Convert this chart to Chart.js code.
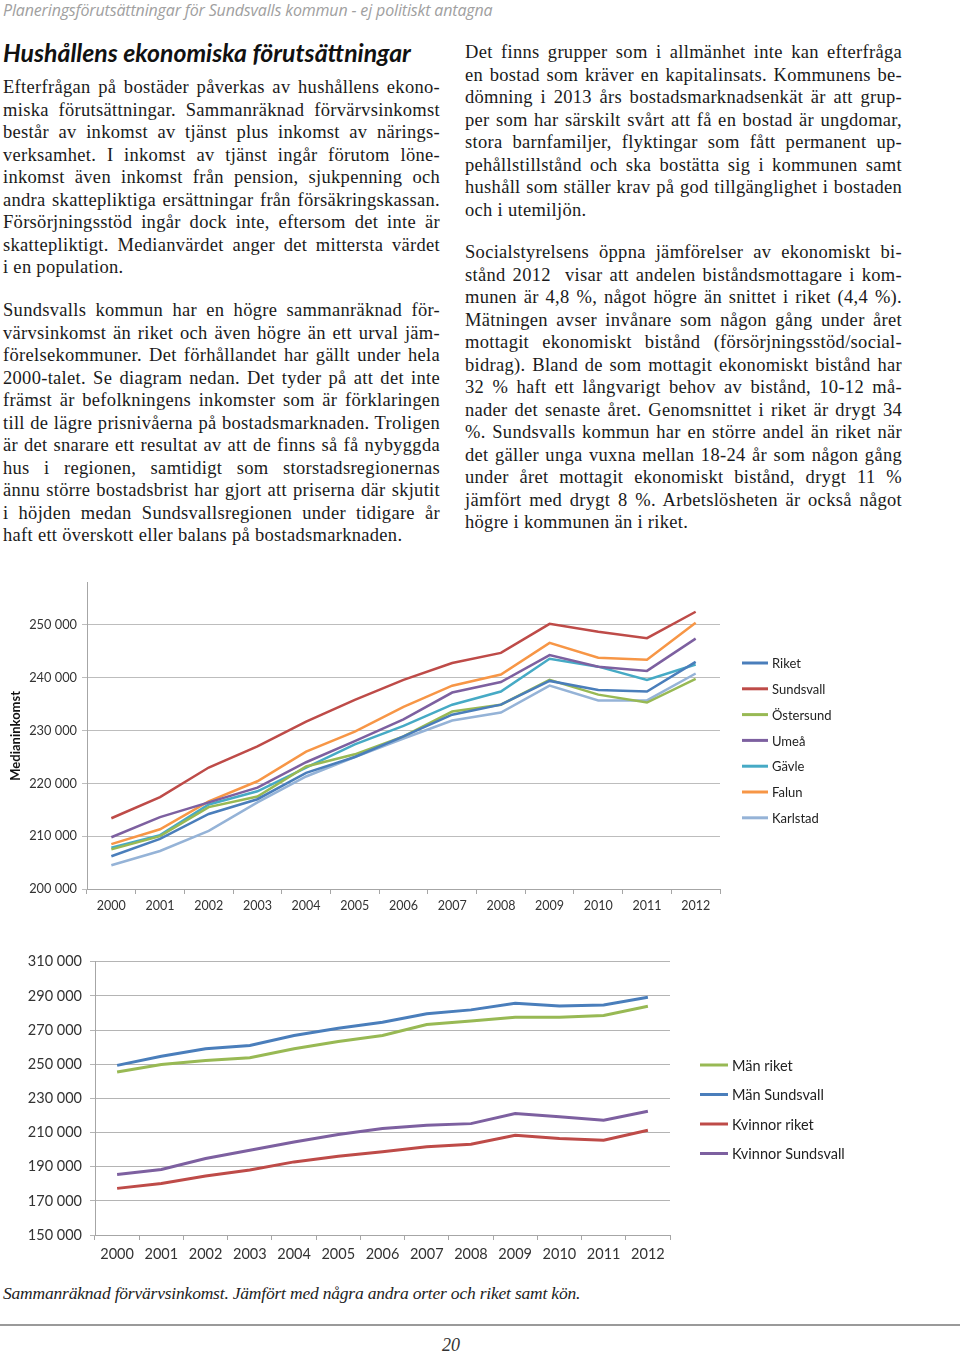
<!DOCTYPE html>
<html lang="sv">
<head>
<meta charset="utf-8">
<title>Hushållens ekonomiska förutsättningar</title>
<script src="https://cdn.jsdelivr.net/npm/chart.js@4.4.1/dist/chart.umd.min.js"></script>
<style>
  html, body { margin: 0; padding: 0; background: #fff; }
  body { width: 960px; height: 1353px; position: relative; overflow: hidden; color: #1a1a1a; }
  .hdr { position: absolute; left: 3px; top: -1px; font: italic 16px "Open Sans", sans-serif; color: #a0a0a0; letter-spacing: -0.15px; }
  .title { position: absolute; left: 3px; top: 38px; font: italic bold 24.8px Lato, sans-serif; color: #111; }
  .col { position: absolute; width: 437px; font: 18.5px "Liberation Serif", serif; letter-spacing: 0.3px; line-height: 22.5px; }
  .col div { white-space: nowrap; text-align: justify; text-align-last: justify; height: 22.5px; }
  .col div.l { text-align-last: left; }
  .chartbox { position: absolute; }
  .caption { position: absolute; left: 3px; top: 1283px; font: italic 17.5px "Liberation Serif", serif; letter-spacing: -0.2px; color: #222; }
  .rule { position: absolute; left: 0; top: 1324px; width: 960px; height: 2px; background: #9a9a9a; }
  .pagenr { position: absolute; left: 442px; top: 1335px; font: italic 18px "Liberation Serif", serif; color: #333; }
</style>
</head>
<body>
<div class="hdr">Planeringsförutsättningar för Sundsvalls kommun - ej politiskt antagna</div>
<div class="title">Hushållens ekonomiska förutsättningar</div>

<div class="col" style="left:3px; top:76px;">
  <div>Efterfrågan på bostäder påverkas av hushållens ekono-</div>
  <div>miska förutsättningar. Sammanräknad förvärvsinkomst</div>
  <div>består av inkomst av tjänst plus inkomst av närings-</div>
  <div>verksamhet. I inkomst av tjänst ingår förutom löne-</div>
  <div>inkomst även inkomst från pension, sjukpenning och</div>
  <div>andra skattepliktiga ersättningar från försäkringskassan.</div>
  <div>Försörjningsstöd ingår dock inte, eftersom det inte är</div>
  <div>skattepliktigt. Medianvärdet anger det mittersta värdet</div>
  <div class="l">i en population.</div>
</div>
<div class="col" style="left:3px; top:299px;">
  <div>Sundsvalls kommun har en högre sammanräknad för-</div>
  <div>värvsinkomst än riket och även högre än ett urval jäm-</div>
  <div>förelsekommuner. Det förhållandet har gällt under hela</div>
  <div>2000-talet. Se diagram nedan. Det tyder på att det inte</div>
  <div>främst är befolkningens inkomster som är förklaringen</div>
  <div>till de lägre prisnivåerna på bostadsmarknaden. Troligen</div>
  <div>är det snarare ett resultat av att de finns så få nybyggda</div>
  <div>hus i regionen, samtidigt som storstadsregionernas</div>
  <div>ännu större bostadsbrist har gjort att priserna där skjutit</div>
  <div>i höjden medan Sundsvallsregionen under tidigare år</div>
  <div class="l">haft ett överskott eller balans på bostadsmarknaden.</div>
</div>

<div class="col" style="left:465px; top:41px;">
  <div>Det finns grupper som i allmänhet inte kan efterfråga</div>
  <div>en bostad som kräver en kapitalinsats. Kommunens be-</div>
  <div>dömning i 2013 års bostadsmarknadsenkät är att grup-</div>
  <div>per som har särskilt svårt att få en bostad är ungdomar,</div>
  <div>stora barnfamiljer, flyktingar som fått permanent up-</div>
  <div>pehållstillstånd och ska bostätta sig i kommunen samt</div>
  <div>hushåll som ställer krav på god tillgänglighet i bostaden</div>
  <div class="l">och i utemiljön.</div>
</div>
<div class="col" style="left:465px; top:241px;">
  <div>Socialstyrelsens öppna jämförelser av ekonomiskt bi-</div>
  <div>stånd 2012&nbsp; visar att andelen biståndsmottagare i kom-</div>
  <div>munen är 4,8 %, något högre än snittet i riket (4,4 %).</div>
  <div>Mätningen avser invånare som någon gång under året</div>
  <div>mottagit ekonomiskt bistånd (försörjningsstöd/social-</div>
  <div>bidrag). Bland de som mottagit ekonomiskt bistånd har</div>
  <div>32 % haft ett långvarigt behov av bistånd, 10-12 må-</div>
  <div>nader det senaste året. Genomsnittet i riket är drygt 34</div>
  <div>%. Sundsvalls kommun har en större andel än riket när</div>
  <div>det gäller unga vuxna mellan 18-24 år som någon gång</div>
  <div>under året mottagit ekonomiskt bistånd, drygt 11 %</div>
  <div>jämfört med drygt 8 %. Arbetslösheten är också något</div>
  <div class="l">högre i kommunen än i riket.</div>
</div>

<div class="chartbox" style="left:0; top:570px; width:900px; height:350px;"><canvas id="chartOrter"></canvas></div>
<div class="chartbox" style="left:0; top:945px; width:900px; height:330px;"><canvas id="chartKon"></canvas></div>

<div class="caption">Sammanräknad förvärvsinkomst. Jämfört med några andra orter och riket samt kön.</div>
<div class="rule"></div>
<div class="pagenr">20</div>

<script>
// Medianinkomst per år
const years = ['2000','2001','2002','2003','2004','2005','2006','2007','2008','2009','2010','2011','2012'];
const yTicksOrter = [200000, 210000, 220000, 230000, 240000, 250000];

const riket     = [206200, 209500, 214200, 217000, 222000, 225000, 228900, 233000, 234900, 239400, 237700, 237400, 243000];
const sundsvall = [213400, 217400, 223000, 227000, 231700, 235800, 239600, 242800, 244700, 250200, 248700, 247500, 252500];
const ostersund = [207500, 210000, 215500, 217500, 223200, 225500, 228900, 233600, 234900, 239600, 236800, 235300, 239800];
const umea      = [209800, 213600, 216400, 219200, 224000, 228000, 232100, 237200, 239200, 244300, 242100, 241300, 247400];
const gavle     = [207800, 210200, 216000, 218500, 223000, 227400, 230900, 234900, 237400, 243600, 242100, 239600, 242500];
const falun     = [208500, 211300, 216600, 220400, 226000, 229800, 234500, 238500, 240600, 246600, 243800, 243400, 250400];
const karlstad  = [204500, 207200, 211000, 216400, 221300, 225000, 228500, 231900, 233400, 238500, 235700, 235700, 240800];

// Sammanräknad förvärvsinkomst per kön
const manRiket         = [245400, 249800, 252200, 253800, 259000, 263300, 266800, 273200, 275300, 277500, 277500, 278500, 283900];
const manSundsvall     = [249300, 254700, 259000, 261000, 266800, 271100, 274600, 279500, 281800, 285700, 284000, 284700, 289200];
const kvinnorRiket     = [177300, 180200, 184500, 188000, 192800, 196100, 198700, 201600, 203100, 208400, 206500, 205500, 211300];
const kvinnorSundsvall = [185400, 188300, 194800, 199600, 204500, 208800, 212300, 214200, 215200, 221100, 219200, 217200, 222400];

const BLUE = '#4a7ebb', RED = '#be4b48', GREEN = '#98b954', PURPLE = '#7d60a0',
      TEAL = '#46aac5', ORANGE = '#f79646', LBLUE = '#95b3d7';

const fmt = v => String(v).replace(/\B(?=(\d{3})+(?!\d))/g, ' ');

// legend drawn next to the plot, one row per dataset
const sideLegend = {
  id: 'sideLegend',
  afterDraw(chart, args, opts) {
    const ctx = chart.ctx;
    ctx.save();
    ctx.font = opts.font;
    ctx.textBaseline = 'middle';
    chart.data.datasets.forEach((ds, i) => {
      const y = opts.y + i * opts.gap;
      ctx.strokeStyle = ds.borderColor;
      ctx.lineWidth = 3;
      ctx.beginPath();
      ctx.moveTo(opts.x, y);
      ctx.lineTo(opts.x + opts.len, y);
      ctx.stroke();
      ctx.fillStyle = '#222';
      ctx.fillText(ds.label, opts.x + opts.len + 4, y + 1);
    });
    ctx.restore();
  }
};

const line = (label, data, color, w) => ({
  label, data, borderColor: color, backgroundColor: color,
  borderWidth: w, pointRadius: 0, tension: 0, fill: false
});

Chart.defaults.font.family = 'Lato, sans-serif';
Chart.defaults.color = '#333';

new Chart(document.getElementById('chartOrter'), {
  type: 'line',
  data: {
    labels: years,
    datasets: [
      line('Riket', riket, BLUE, 2.5),
      line('Sundsvall', sundsvall, RED, 2.5),
      line('Östersund', ostersund, GREEN, 2.5),
      line('Umeå', umea, PURPLE, 2.5),
      line('Gävle', gavle, TEAL, 2.5),
      line('Falun', falun, ORANGE, 2.5),
      line('Karlstad', karlstad, LBLUE, 2.5)
    ]
  },
  options: {
    responsive: true,
    maintainAspectRatio: false,
    animation: false,
    layout: { padding: { top: 12, right: 180, left: 0, bottom: 0 } },
    plugins: {
      legend: { display: false },
      tooltip: { enabled: false },
      sideLegend: { x: 742, y: 93, gap: 25.8, len: 26, font: '13px Lato, sans-serif' }
    },
    scales: {
      x: {
        offset: true,
        grid: { offset: true, drawOnChartArea: false, drawTicks: true, tickLength: 5, color: '#a6a6a6' },
        border: { color: '#a6a6a6' },
        ticks: { font: { size: 12.5 }, padding: 4, maxRotation: 0 },
        afterFit: s => { s.height = 31; }
      },
      y: {
        min: 200000,
        max: 258000,
        ticks: { font: { size: 12.8 }, padding: 5, callback: v => fmt(v) },
        afterBuildTicks: s => { s.ticks = yTicksOrter.map(v => ({ value: v })); },
        grid: { color: '#bdbdbd', tickLength: 5 },
        border: { color: '#a6a6a6' },
        title: { display: true, text: 'Medianinkomst', font: { size: 13, weight: 'bold' }, color: '#111', padding: { top: 8, bottom: 0 } },
        afterFit: s => { s.width = 87; }
      }
    }
  },
  plugins: [sideLegend]
});

new Chart(document.getElementById('chartKon'), {
  type: 'line',
  data: {
    labels: years,
    datasets: [
      line('Män riket', manRiket, GREEN, 3),
      line('Män Sundsvall', manSundsvall, BLUE, 3),
      line('Kvinnor riket', kvinnorRiket, RED, 3),
      line('Kvinnor Sundsvall', kvinnorSundsvall, PURPLE, 3)
    ]
  },
  options: {
    responsive: true,
    maintainAspectRatio: false,
    animation: false,
    layout: { padding: { top: 16, right: 230, left: 0, bottom: 0 } },
    plugins: {
      legend: { display: false },
      tooltip: { enabled: false },
      sideLegend: { x: 700, y: 120, gap: 29.5, len: 28, font: '14.5px Lato, sans-serif' }
    },
    scales: {
      x: {
        offset: true,
        grid: { offset: true, drawOnChartArea: false, drawTicks: true, tickLength: 5, color: '#a6a6a6' },
        border: { color: '#a6a6a6' },
        ticks: { font: { size: 14.5 }, padding: 6, maxRotation: 0 },
        afterFit: s => { s.height = 40; }
      },
      y: {
        min: 150000,
        max: 310000,
        ticks: { stepSize: 20000, font: { size: 14.5 }, padding: 8, callback: v => fmt(v) },
        grid: { color: '#b4b4b4', tickLength: 5 },
        border: { color: '#a6a6a6' },
        afterFit: s => { s.width = 95; }
      }
    }
  },
  plugins: [sideLegend]
});
</script>
</body>
</html>
